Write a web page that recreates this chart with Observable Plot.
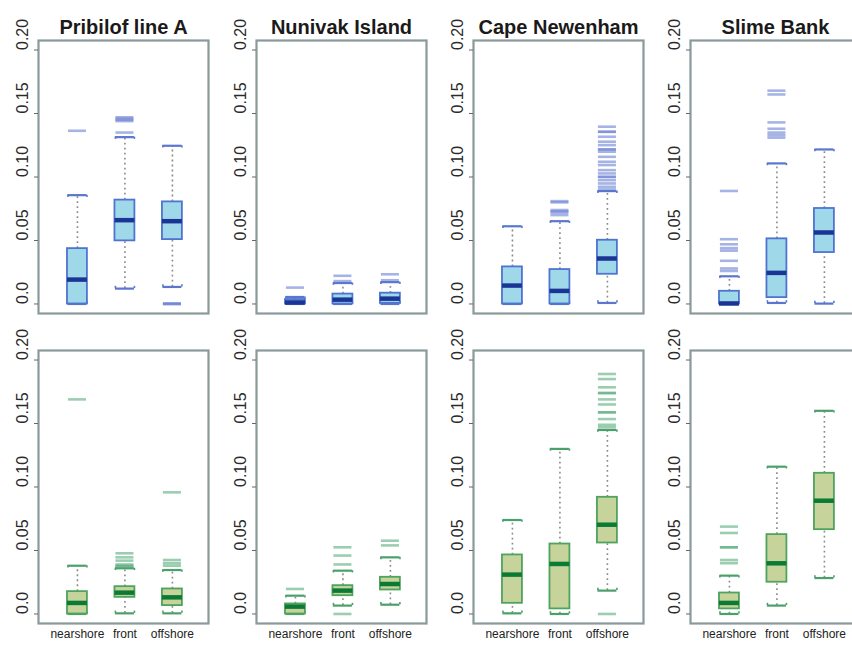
<!DOCTYPE html>
<html><head><meta charset="utf-8">
<script src="https://cdn.jsdelivr.net/npm/d3@7"></script>
<script src="https://cdn.jsdelivr.net/npm/@observablehq/plot@0.6"></script>
<style>
html,body{margin:0;padding:0;background:#fff;overflow:hidden}
#wrap{position:relative;width:852px;height:647px;overflow:hidden;background:#fff}
.panel{position:absolute;width:218px}
.panel svg{display:block;max-width:none !important;width:218px}
</style></head><body><div id="wrap"></div>
<script>
// ---- data ----
const regions = ["Pribilof line A", "Nunivak Island", "Cape Newenham", "Slime Bank"];
const sites = ["nearshore", "front", "offshore"];
const sitePos = [1, 2, 3];
const yTicks = [0, 0.05, 0.10, 0.15, 0.20];
const yTickLabels = ["0.0", "0.05", "0.10", "0.15", "0.20"];

// top row (blue): [region][site]
const topLow = [[0, 0.0121, 0.0134], [0, 0, 0], [0, 0, 0.0008], [0, 0.0008, 0.0003]];
const topQ1 = [[0, 0.0497, 0.0507], [0, 0, 0.0005], [0, 0, 0.0234], [0, 0.005, 0.0405]];
const topMed = [[0.0192, 0.066, 0.0652], [0.0012, 0.0034, 0.0042], [0.0145, 0.0103, 0.0358], [0.0004, 0.0245, 0.0563]];
const topQ3 = [[0.0436, 0.0818, 0.0804], [0.0035, 0.0078, 0.0085], [0.0292, 0.0271, 0.0502], [0.010, 0.0513, 0.0752]];
const topHigh = [[0.0857, 0.1314, 0.1246], [0.0055, 0.0165, 0.0172], [0.0612, 0.0652, 0.0889], [0.0218, 0.1107, 0.1217]];
const topOut = [
  [[0.1364], [0.135, 0.144, 0.145, 0.146, 0.147], [0, 0, 0.0005]],
  [[0.0129], [0.018, 0.0222], [0.0187, 0.0234]],
  [[], [0.070, 0.072, 0.073, 0.074, 0.080, 0.081],
   [0.1396, 0.1356, 0.1356, 0.1317, 0.1278, 0.1251, 0.1217, 0.1217, 0.1199, 0.1159, 0.112, 0.1094, 0.1054, 0.1028, 0.1001, 0.1001, 0.0975, 0.0949, 0.0923, 0.0902]],
  [[0.026, 0.028, 0.034, 0.042, 0.044, 0.047, 0.051, 0.089], [0.131, 0.133, 0.135, 0.138, 0.143, 0.165, 0.168], []]
];

// bottom row (green): [region][site]
const botLow = [[0, 0.0005, 0.0005], [0, 0.0066, 0.0073], [0.0005, 0, 0.0184], [0, 0.0066, 0.0283]];
const botQ1 = [[0, 0.0131, 0.0066], [0, 0.0144, 0.0189], [0.0084, 0.004, 0.0559], [0.004, 0.025, 0.0664]];
const botMed = [[0.0087, 0.0168, 0.0131], [0.0058, 0.0184, 0.0236], [0.031, 0.0394, 0.0703], [0.0087, 0.0399, 0.0892]];
const botQ3 = [[0.0176, 0.0215, 0.0197], [0.0079, 0.0223, 0.0289], [0.0465, 0.0551, 0.0919], [0.0165, 0.0625, 0.1108]];
const botHigh = [[0.038, 0.036, 0.0346], [0.0144, 0.0341, 0.0446], [0.074, 0.13, 0.1449], [0.0302, 0.116, 0.160]];
const botOut = [
  [[0.169], [0.0375, 0.038, 0.039, 0.042, 0.0446, 0.0478], [0.038, 0.040, 0.0425, 0.0958]],
  [[0.0197], [0, 0.039, 0.046, 0.0525], [0.054, 0.0577]],
  [[], [], [0, 0.147, 0.149, 0.1535, 0.1588, 0.1588, 0.165, 0.169, 0.174, 0.174, 0.1785, 0.185, 0.189]],
  [[0.040, 0.0425, 0.0525, 0.0525, 0.0638, 0.0688], [], []]
];

// ---- styles ----
const rowsStyle = [
  {low: topLow, q1: topQ1, med: topMed, q3: topQ3, high: topHigh, out: topOut,
   fill: "#9fd8e9", stroke: "#4f74d0", median: "#1b3596", cap: "#5a76cf", outlier: "#6a80d4",
   top: 0, height: 330, marginTop: 40, marginBottom: 17, title: true, xLabels: false},
  {low: botLow, q1: botQ1, med: botMed, q3: botQ3, high: botHigh, out: botOut,
   fill: "#c6d49c", stroke: "#4ea35e", median: "#0a7a34", cap: "#4aa06a", outlier: "#58ad7c",
   top: 330, height: 317, marginTop: 20, marginBottom: 24, title: false, xLabels: true}
];
const panelLeft = [0, 218, 435, 652];
const W = 218, ML = 38, MR = 10;
const frameW = W - ML - MR;
const hw = 0.21, cw = 0.2, ow = 0.19, capEnd = 0.0018;

const wrap = document.getElementById("wrap");

rowsStyle.forEach((R) => {
  regions.forEach((region, ri) => {
    const stats = sites.map((s, si) => ({
      site: s, pos: sitePos[si],
      lo: R.low[ri][si], q1: R.q1[ri][si], med: R.med[ri][si], q3: R.q3[ri][si], hi: R.high[ri][si]
    }));
    const outs = [];
    sites.forEach((s, si) => R.out[ri][si].forEach(v => outs.push({pos: sitePos[si], v})));
    const capEnds = [];
    stats.forEach(d => {
      [-cw, cw].forEach(o => {
        capEnds.push({x: d.pos + o, y1: d.hi, y2: d.hi - capEnd});
        capEnds.push({x: d.pos + o, y1: d.lo, y2: d.lo + capEnd});
      });
    });
    const marks = [
      // whiskers
      Plot.ruleX(stats, {x: "pos", y1: "q3", y2: "hi", stroke: "#8a8a8a", strokeWidth: 1.6, strokeDasharray: "1.8,3.2"}),
      Plot.ruleX(stats, {x: "pos", y1: "lo", y2: "q1", stroke: "#8a8a8a", strokeWidth: 1.6, strokeDasharray: "1.8,3.2"}),
      // outliers
      Plot.ruleY(outs, {y: "v", x1: d => d.pos - ow, x2: d => d.pos + ow, stroke: R.outlier, strokeOpacity: 0.6, strokeWidth: 2.6}),
      // caps
      Plot.ruleY(stats, {y: "hi", x1: d => d.pos - cw, x2: d => d.pos + cw, stroke: R.cap, strokeWidth: 2.2}),
      Plot.ruleY(stats, {y: "lo", x1: d => d.pos - cw, x2: d => d.pos + cw, stroke: R.cap, strokeWidth: 2.2}),
      Plot.ruleX(capEnds, {x: "x", y1: "y1", y2: "y2", stroke: R.cap, strokeWidth: 1.6}),
      // boxes
      Plot.rect(stats, {x1: d => d.pos - hw, x2: d => d.pos + hw, y1: "q1", y2: "q3", fill: R.fill, stroke: R.stroke, strokeWidth: 1.8}),
      // medians
      Plot.ruleY(stats, {y: "med", x1: d => d.pos - hw, x2: d => d.pos + hw, stroke: R.median, strokeWidth: 4.5}),
      // frame
      Plot.frame({stroke: "#8a9a9a", strokeWidth: 2.2}),
      // y ticks and labels
      Plot.ruleY(yTicks, {y: d => d, stroke: "#666", strokeWidth: 1, insetLeft: -4, insetRight: frameW}),
      Plot.text(yTicks, {y: d => d, text: (d, i) => yTickLabels[i], frameAnchor: "left", rotate: -90, dx: -16, fontSize: 16, fill: "#2a2a2a"})
    ];
    if (R.title) {
      marks.push(Plot.text([region], {text: d => d, frameAnchor: "top", dy: -21, fontSize: 20, fontWeight: "bold", fill: "#1a1a1a"}));
    }
    if (R.xLabels) {
      marks.push(Plot.text(stats, {x: "pos", text: "site", frameAnchor: "bottom", dy: 14, fontSize: 12, fill: "#222"}));
    }
    const svg = Plot.plot({
      width: W, height: R.height,
      marginLeft: ML, marginRight: MR, marginTop: R.marginTop, marginBottom: R.marginBottom,
      x: {domain: [0.18, 3.76], axis: null},
      y: {domain: [-0.0075, 0.2075], axis: null},
      style: {fontFamily: "'Liberation Sans', Arial, Helvetica, sans-serif", background: "transparent", overflow: "visible", maxWidth: "none"},
      marks
    });
    const div = document.createElement("div");
    div.className = "panel";
    div.style.left = panelLeft[ri] + "px";
    div.style.top = R.top + "px";
    div.appendChild(svg);
    wrap.appendChild(div);
  });
});
</script></body></html>
